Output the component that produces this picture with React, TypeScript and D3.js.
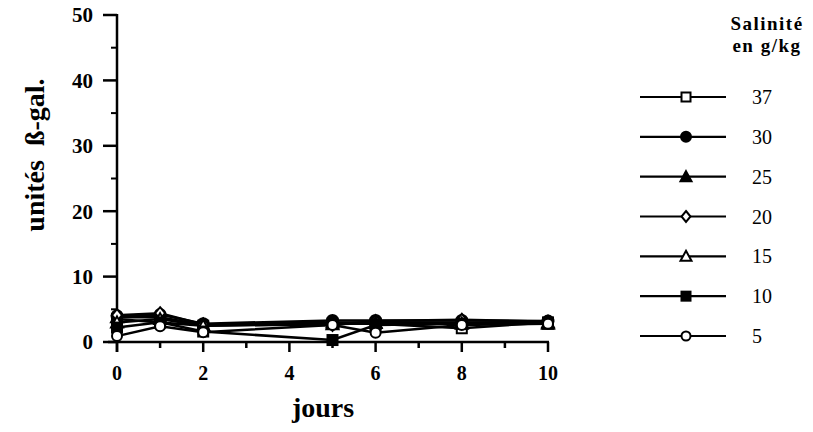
import React from "react";
import * as d3 from "d3";

const days = [0, 1, 2, 5, 6, 8, 10];
const salinities = ["37", "30", "25", "20", "15", "10", "5"];
const markers = ["squareOpen", "circleFilled", "triangleFilled", "diamondOpen", "triangleOpen", "squareFilled", "circleOpen"];
const s37 = [3.5, 3.0, 2.5, 2.8, 2.8, 2.1, 3.0];
const s30 = [4.0, 4.2, 2.8, 3.3, 3.3, 3.3, 3.2];
const s25 = [3.8, 3.8, 2.6, 3.0, 3.0, 3.0, 3.0];
const s20 = [4.1, 4.4, 2.7, 2.6, 3.2, 3.4, 3.1];
const s15 = [3.0, 3.5, 2.5, 2.7, 2.9, 2.8, 2.8];
const s10 = [2.2, 3.0, 1.6, 0.3, 2.6, 2.8, 2.8];
const s5 = [0.9, 2.4, 1.5, 2.6, 1.4, 2.6, 2.8];
const seriesValues = [s37, s30, s25, s20, s15, s10, s5];
const yTicks = [0, 10, 20, 30, 40, 50];
const xTicks = [0, 2, 4, 6, 8, 10];

const FONT = "'Liberation Serif', 'DejaVu Serif', serif";

function Marker({ kind, x, y, r = 5 }: { kind: string; x: number; y: number; r?: number }) {
  const common = { stroke: "#000", strokeWidth: 2 };
  switch (kind) {
    case "squareOpen":
      return <rect x={x - r} y={y - r} width={2 * r} height={2 * r} fill="#fff" {...common} />;
    case "squareFilled":
      return <rect x={x - r} y={y - r} width={2 * r} height={2 * r} fill="#000" {...common} />;
    case "circleFilled":
      return <circle cx={x} cy={y} r={r + 0.5} fill="#000" {...common} />;
    case "circleOpen":
      return <circle cx={x} cy={y} r={r} fill="#fff" {...common} />;
    case "triangleFilled":
      return <path d={`M${x},${y - r - 1}L${x + r + 1},${y + r}L${x - r - 1},${y + r}Z`} fill="#000" {...common} />;
    case "triangleOpen":
      return <path d={`M${x},${y - r - 1}L${x + r + 1},${y + r}L${x - r - 1},${y + r}Z`} fill="#fff" {...common} />;
    case "diamondOpen":
      return <path d={`M${x},${y - r - 1}L${x + r},${y}L${x},${y + r + 1}L${x - r},${y}Z`} fill="#fff" {...common} />;
    default:
      return null;
  }
}

export default function App() {
  const W = 813, H = 432;
  const x = d3.scaleLinear().domain([0, 10]).range([117, 548]);
  const y = d3.scaleLinear().domain([0, 50]).range([342, 15]);
  const line = d3.line<number>().x((_, i) => x(days[i])).y((v) => y(v));
  const minorY = d3.range(5, 50, 10);
  const allX = d3.range(0, 11, 1);

  const legendX1 = 640, legendX2 = 726, legendMX = 686, legendLabelX = 752;
  const legendY = d3.scalePoint<string>().domain(salinities).range([97, 336]);

  return (
    <div style={{ position: "absolute", left: 0, top: 0 }}>
      <svg width={W} height={H} style={{ display: "block", background: "#fff" }}>
        {/* y axis */}
        <line x1={117} x2={117} y1={14} y2={352} stroke="#000" strokeWidth={2.5} />
        {yTicks.map((t) => (
          <g key={"yt" + t}>
            <line x1={103} x2={117} y1={y(t)} y2={y(t)} stroke="#000" strokeWidth={2.5} />
            <text x={93} y={y(t)} dy="0.35em" textAnchor="end" fontFamily={FONT} fontWeight="bold" fontSize={21}>
              {t}
            </text>
          </g>
        ))}
        {minorY.map((t) => (
          <line key={"ym" + t} x1={111} x2={117} y1={y(t)} y2={y(t)} stroke="#000" strokeWidth={2} />
        ))}
        {/* x axis */}
        <line x1={108} x2={549} y1={342} y2={342} stroke="#000" strokeWidth={2.5} />
        {allX.map((t) => (
          <line key={"xt" + t} x1={x(t)} x2={x(t)} y1={342} y2={t % 2 === 0 ? 352 : 348} stroke="#000" strokeWidth={2.5} />
        ))}
        {xTicks.map((t) => (
          <text key={"xl" + t} x={x(t)} y={380} textAnchor="middle" fontFamily={FONT} fontWeight="bold" fontSize={20}>
            {t}
          </text>
        ))}
        {/* axis titles */}
        <text x={323} y={417} textAnchor="middle" fontFamily={FONT} fontWeight="bold" fontSize={28}>
          jours
        </text>
        <text
          transform="translate(44,155) rotate(-90)"
          textAnchor="middle"
          fontFamily={FONT}
          fontWeight="bold"
          fontSize={28}
          style={{ whiteSpace: "pre" }}
        >
          {"unités  ß-gal."}
        </text>
        {/* series */}
        {seriesValues.map((vals, i) => (
          <path key={"l" + i} d={line(vals) || ""} fill="none" stroke="#000" strokeWidth={2.5} />
        ))}
        {seriesValues.map((vals, i) =>
          vals.map((v, j) => <Marker key={`m${i}-${j}`} kind={markers[i]} x={x(days[j])} y={y(v)} />)
        )}
        {/* legend */}
        <text x={767} y={30} textAnchor="middle" fontFamily={FONT} fontWeight="bold" fontSize={19} letterSpacing={1.5}>
          Salinité
        </text>
        <text x={767} y={52} textAnchor="middle" fontFamily={FONT} fontWeight="bold" fontSize={19} letterSpacing={1.5}>
          en g/kg
        </text>
        {salinities.map((s, i) => {
          const ly = legendY(s) as number;
          return (
            <g key={"lg" + s}>
              <line x1={legendX1} x2={legendX2} y1={ly} y2={ly} stroke="#000" strokeWidth={2.2} />
              <Marker kind={markers[i]} x={legendMX} y={ly} r={4.5} />
              <text x={legendLabelX} y={ly} dy="0.35em" fontFamily={FONT} fontSize={20}>
                {s}
              </text>
            </g>
          );
        })}
      </svg>
    </div>
  );
}
